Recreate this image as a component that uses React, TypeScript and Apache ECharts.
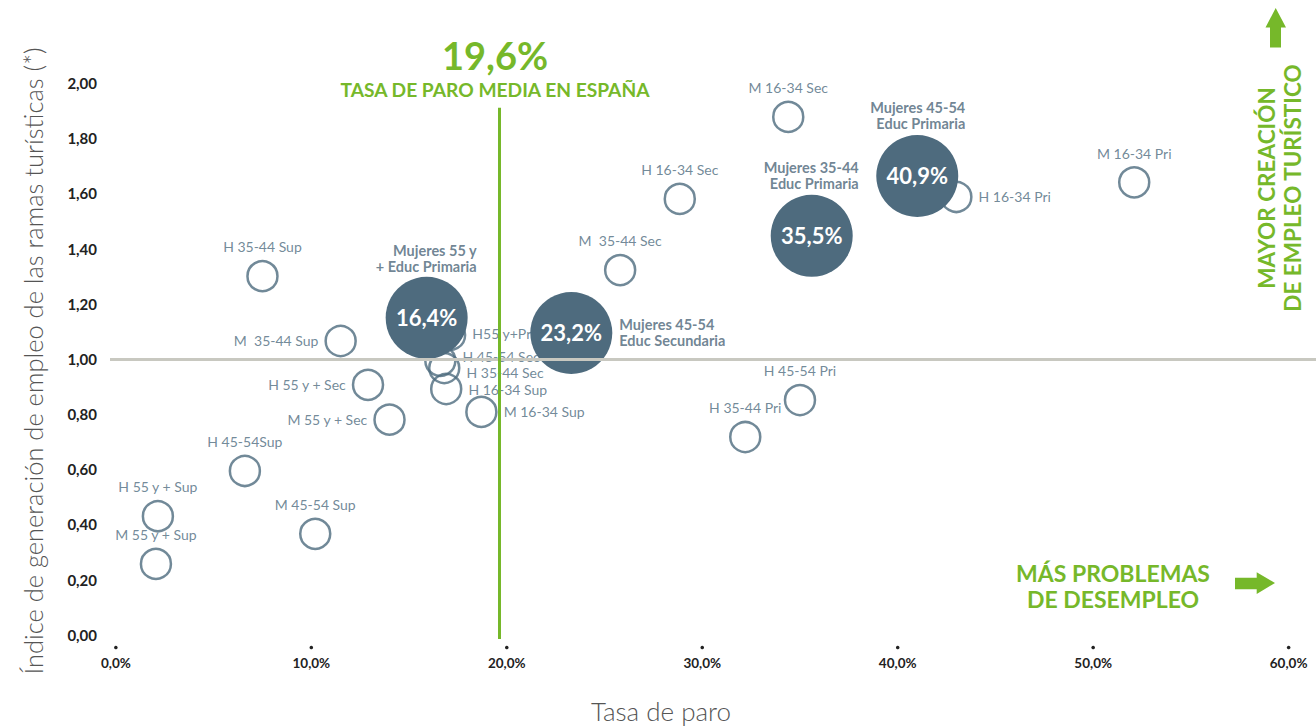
import React, { useEffect, useRef } from 'react';
import * as echarts from 'echarts';

// ---- Data ----
const groupNames = [
  'H 35-44 Sup', 'M  35-44 Sup', 'H 55 y + Sec', 'M 55 y + Sec', 'H 45-54Sup',
  'H 55 y + Sup', 'M 55 y + Sup', 'M 45-54 Sup', 'H55 y+Pri', 'H 45-54 Sec',
  'H 35-44 Sec', 'H 16-34 Sup', 'M 16-34 Sup', 'M  35-44 Sec', 'H 16-34 Sec',
  'M 16-34 Sec', 'H 16-34 Pri', 'M 16-34 Pri', 'H 45-54 Pri', 'H 35-44 Pri',
];
const groupParo = [
  7.5, 11.5, 12.9, 14.0, 6.6,
  2.15, 2.05, 10.2, 17.1, 16.6,
  16.8, 16.9, 18.7, 25.8, 28.85,
  34.4, 43.0, 52.1, 35.0, 32.2,
];
const groupIndice = [
  1.30, 1.065, 0.906, 0.78, 0.594,
  0.43, 0.257, 0.366, 1.087, 0.993,
  0.967, 0.891, 0.808, 1.322, 1.58,
  1.877, 1.587, 1.64, 0.851, 0.717,
];

const highlightNames = [
  'Mujeres 55 y\n+ Educ Primaria',
  'Mujeres 45-54\nEduc Secundaria',
  'Mujeres 35-44\nEduc Primaria',
  'Mujeres 45-54\nEduc Primaria',
];
const highlightParo = [15.9, 23.3, 35.6, 41.0];
const highlightIndice = [1.149, 1.094, 1.446, 1.663];
const highlightShare = ['16,4%', '23,2%', '35,5%', '40,9%'];

const xTicks = [0, 10, 20, 30, 40, 50, 60];
const yTicks = [0, 0.2, 0.4, 0.6, 0.8, 1.0, 1.2, 1.4, 1.6, 1.8, 2.0];

const tasaMedia = 19.6;
const tasaMediaLabel = '19,6%';
const referenceIndex = 1.0;

// ---- Styles (kept apart from data) ----
const GREEN = '#76b82a';
const SLATE = '#4e6b7e';
const FONT = 'Lato, "Noto Sans", sans-serif';
const X_MIN = -0.3;
const X_MAX = 61.4;
const Y_MIN = -0.015;

const labelSide: Record<string, string> = {
  'M  35-44 Sup': 'left',
  'H 55 y + Sec': 'left',
  'M 55 y + Sec': 'left',
  'H55 y+Pri': 'right',
  'H 45-54 Sec': 'right',
  'H 35-44 Sec': 'right',
  'H 16-34 Sup': 'right',
  'M 16-34 Sup': 'right',
  'H 16-34 Pri': 'right',
};
const labelNudge: Record<string, number[]> = {
  'H 45-54 Sec': [0, -4],
  'H 35-44 Sec': [0, 4],
  'H55 y+Pri': [0, -1],
};

const highlightLabelLayout = [
  { position: 'top', distance: 2, align: 'right', offset: [50, 0] },
  { position: 'right', distance: 7, align: 'left', offset: [0, 0] },
  { position: 'top', distance: 3, align: 'right', offset: [47, 0] },
  { position: 'top', distance: 3, align: 'right', offset: [48, 0] },
];

const fmtComma = (v: number, d: number) => v.toFixed(d).replace('.', ',');

export default function App() {
  const ref = useRef<HTMLDivElement>(null);

  useEffect(() => {
    document.body.style.margin = '0';
    if (!ref.current) return;
    const chart = echarts.init(ref.current, undefined, { renderer: 'svg' });

    const outlineData = groupNames.map((name, i) => ({
      name,
      value: [groupParo[i], groupIndice[i]],
      label: { position: labelSide[name] || 'top', offset: labelNudge[name] || [0, 0] },
    }));

    const filledData = highlightNames.map((name, i) => ({
      name,
      value: [highlightParo[i], highlightIndice[i]],
      share: highlightShare[i],
    }));

    const nameLabelData = highlightNames.map((name, i) => ({
      name,
      value: [highlightParo[i], highlightIndice[i]],
      label: { ...highlightLabelLayout[i] },
    }));

    const staticGraphics: any[] = [
      {
        id: 'media-value',
        type: 'text',
        x: 495,
        y: 55,
        silent: true,
        style: {
          text: tasaMediaLabel,
          align: 'center',
          verticalAlign: 'middle',
          fontSize: 38,
          fontWeight: 'bold',
          fontFamily: FONT,
          fill: GREEN,
        },
      },
      {
        id: 'media-title',
        type: 'text',
        x: 495,
        y: 89.5,
        silent: true,
        style: {
          text: 'TASA DE PARO MEDIA EN ESPAÑA',
          align: 'center',
          verticalAlign: 'middle',
          fontSize: 19.2,
          fontWeight: 'bold',
          fontFamily: FONT,
          fill: GREEN,
        },
      },
      {
        id: 'mayor',
        type: 'text',
        x: 1279,
        y: 188,
        rotation: Math.PI / 2,
        silent: true,
        style: {
          text: 'MAYOR CREACIÓN\nDE EMPLEO TURÍSTICO',
          align: 'center',
          verticalAlign: 'middle',
          fontSize: 22.5,
          lineHeight: 26,
          fontWeight: 'bold',
          fontFamily: FONT,
          fill: GREEN,
        },
      },
      {
        id: 'arrow-up',
        type: 'polygon',
        silent: true,
        shape: {
          points: [
            [1275.7, 8], [1286, 27.5], [1281, 27.5], [1281, 47.5],
            [1270, 47.5], [1270, 27.5], [1265.5, 27.5],
          ],
        },
        style: { fill: GREEN },
      },
      {
        id: 'mas-1',
        type: 'text',
        x: 1113,
        y: 572.5,
        silent: true,
        style: {
          text: 'MÁS PROBLEMAS',
          align: 'center',
          verticalAlign: 'middle',
          fontSize: 23,
          fontWeight: 'bold',
          fontFamily: FONT,
          fill: GREEN,
        },
      },
      {
        id: 'mas-2',
        type: 'text',
        x: 1113,
        y: 599,
        silent: true,
        style: {
          text: 'DE DESEMPLEO',
          align: 'center',
          verticalAlign: 'middle',
          fontSize: 23,
          fontWeight: 'bold',
          fontFamily: FONT,
          fill: GREEN,
        },
      },
      {
        id: 'arrow-right',
        type: 'polygon',
        silent: true,
        shape: {
          points: [
            [1235, 577.7], [1256.7, 577.7], [1256.7, 572.3], [1275, 583],
            [1256.7, 594], [1256.7, 589.3], [1235, 589.3],
          ],
        },
        style: { fill: GREEN },
      },
      {
        id: 'x-title',
        type: 'text',
        x: 661,
        y: 711,
        silent: true,
        style: {
          text: 'Tasa de paro',
          align: 'center',
          verticalAlign: 'middle',
          fontSize: 26,
          fontWeight: 300,
          fontFamily: FONT,
          fill: '#555',
        },
      },
    ];

    const option: any = {
      animation: false,
      grid: { left: 110, right: 0, top: 83, bottom: 87 },
      xAxis: {
        type: 'value',
        min: X_MIN,
        max: X_MAX,
        offset: 8,
        axisLine: { show: false },
        axisTick: { show: false, customValues: xTicks },
        splitLine: { show: false },
        axisLabel: {
          customValues: xTicks,
          margin: 9,
          formatter: (v: number) => fmtComma(v, 1) + '%',
          color: '#222',
          fontWeight: 'bold',
          fontSize: 13.5,
          fontFamily: FONT,
        },
      },
      yAxis: {
        type: 'value',
        min: Y_MIN,
        max: 2,
        axisLine: { show: false },
        axisTick: { show: false, customValues: yTicks },
        splitLine: { show: false },
        axisLabel: {
          customValues: yTicks,
          margin: 13,
          formatter: (v: number) => fmtComma(v, 2),
          color: '#222',
          fontWeight: 'bold',
          fontSize: 15,
          fontFamily: FONT,
        },
        name: 'Índice de generación de empleo de las ramas turísticas (*)',
        nameLocation: 'middle',
        nameGap: 64,
        nameTextStyle: { fontSize: 25.5, fontWeight: 300, color: '#555', fontFamily: FONT },
      },
      series: [
        {
          type: 'scatter',
          name: 'Grupos',
          data: outlineData,
          symbol: 'circle',
          symbolSize: 30,
          clip: false,
          silent: true,
          z: 2,
          itemStyle: { color: 'rgba(0,0,0,0)', borderColor: SLATE, borderWidth: 2.5 },
          label: {
            show: true,
            formatter: '{b}',
            color: SLATE,
            fontSize: 14,
            fontFamily: FONT,
            distance: 6,
          },
          emphasis: { disabled: true },
          markLine: {
            silent: true,
            symbol: 'none',
            label: { show: false },
            emphasis: { disabled: true },
            data: [
              [
                { coord: [X_MIN, referenceIndex], lineStyle: { color: '#c8c8c0', width: 3, type: 'solid' } },
                { coord: [X_MAX, referenceIndex] },
              ],
              [
                { coord: [tasaMedia, Y_MIN], lineStyle: { color: GREEN, width: 3, type: 'solid' } },
                { coord: [tasaMedia, 1.91] },
              ],
            ],
          },
        },
        {
          type: 'scatter',
          name: 'Mujeres destacadas',
          data: filledData,
          symbol: 'circle',
          symbolSize: 82,
          clip: false,
          silent: true,
          z: 3,
          itemStyle: { color: SLATE, opacity: 1 },
          label: {
            show: true,
            position: 'inside',
            formatter: (p: any) => p.data.share,
            color: '#ffffff',
            fontWeight: 'bold',
            fontSize: 22,
            fontFamily: FONT,
          },
          emphasis: { disabled: true },
        },
        {
          type: 'scatter',
          name: 'Etiquetas',
          data: nameLabelData,
          symbol: 'circle',
          symbolSize: 82,
          clip: false,
          silent: true,
          z: 4,
          itemStyle: { color: 'rgba(0,0,0,0)' },
          label: {
            show: true,
            formatter: '{b}',
            color: '#4b6578',
            fontWeight: 'bold',
            fontSize: 14.5,
            lineHeight: 16,
            fontFamily: FONT,
          },
          emphasis: { disabled: true },
        },
      ],
      graphic: staticGraphics,
    };

    chart.setOption(option);

    // Tick dots placed through the axis scale
    const baseY = chart.convertToPixel({ yAxisIndex: 0 }, Y_MIN) as number;
    const dots = xTicks.map((v) => ({
      id: 'tickdot-' + v,
      type: 'circle',
      silent: true,
      shape: { cx: chart.convertToPixel({ xAxisIndex: 0 }, v) as number, cy: baseY + 8.5, r: 1.8 },
      style: { fill: '#222' },
    }));
    chart.setOption({ graphic: [...staticGraphics, ...dots] });

    return () => chart.dispose();
  }, []);

  return <div ref={ref} style={{ width: 1316, height: 726 }} />;
}
